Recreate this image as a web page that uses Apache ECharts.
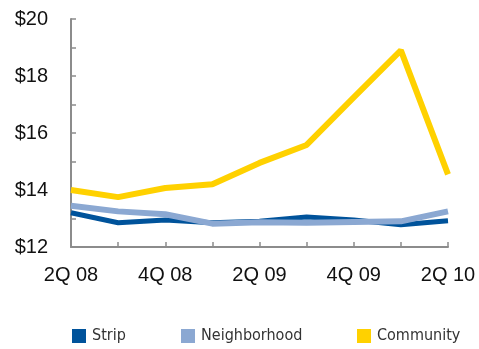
<!DOCTYPE html>
<html><head><meta charset="utf-8">
<script src="https://cdn.jsdelivr.net/npm/echarts@6/dist/echarts.min.js"></script>
<style>html,body{margin:0;padding:0;background:#fff}#c{width:479px;height:349px}</style>
</head><body><div id="c"></div>
<script>
const categories = ['2Q 08','3Q 08','4Q 08','1Q 09','2Q 09','3Q 09','4Q 09','1Q 10','2Q 10'];
const strip = [13.2, 12.85, 12.95, 12.85, 12.9, 13.05, 12.95, 12.78, 12.92];
const neighborhood = [13.45, 13.25, 13.15, 12.82, 12.87, 12.85, 12.88, 12.9, 13.25];
const community = [14.0, 13.75, 14.07, 14.2, 14.95, 15.58, 17.25, 18.9, 14.55];
const yTickLabels = {12:'$12',14:'$14',16:'$16',18:'$18',20:'$20'};

const chart = echarts.init(document.getElementById('c'));
const legendText = {fontFamily:'DejaVu Sans Condensed, Liberation Sans Narrow, sans-serif', fontSize:16, lineHeight:18, color:'#333', padding:[0,0,0,1]};
function lg(name, left){
  return {data:[name], left:left, top:327, padding:0, itemWidth:14, itemHeight:14, itemGap:0, icon:'rect', textStyle:legendText, selectedMode:false};
}
chart.setOption({
  animation:false,
  grid:{left:71, right:31, top:19, bottom:102},
  legend:[lg('Strip',72), lg('Neighborhood',181), lg('Community',357)],
  xAxis:{type:'category', data:categories, boundaryGap:false,
    axisLine:{lineStyle:{color:'#8c8c8c', width:2}},
    axisTick:{inside:true, length:5, lineStyle:{color:'#8c8c8c', width:1.5}, interval:0},
    axisLabel:{interval:1, margin:18, fontFamily:'Liberation Sans, Arial, sans-serif', fontSize:20, color:'#111'},
    splitLine:{show:false}},
  yAxis:{type:'value', min:12, max:20, interval:1,
    axisLine:{show:true, lineStyle:{color:'#8c8c8c', width:2}},
    axisTick:{show:true, inside:true, length:5, lineStyle:{color:'#8c8c8c', width:1.5}},
    axisLabel:{margin:23, fontFamily:'Liberation Sans, Arial, sans-serif', fontSize:20, color:'#111',
      formatter:v=>yTickLabels[v]||''},
    splitLine:{show:false}},
  series:[
    {name:'Strip', type:'line', data:strip, showSymbol:false, lineStyle:{color:'#00539b', width:5}, itemStyle:{color:'#00539b'}, z:2},
    {name:'Neighborhood', type:'line', data:neighborhood, showSymbol:false, lineStyle:{color:'#8ba8d2', width:6}, itemStyle:{color:'#8ba8d2'}, z:3},
    {name:'Community', type:'line', data:community, showSymbol:false, lineStyle:{color:'#ffd100', width:6}, itemStyle:{color:'#ffd100'}, z:4}
  ]
});
</script></body></html>
